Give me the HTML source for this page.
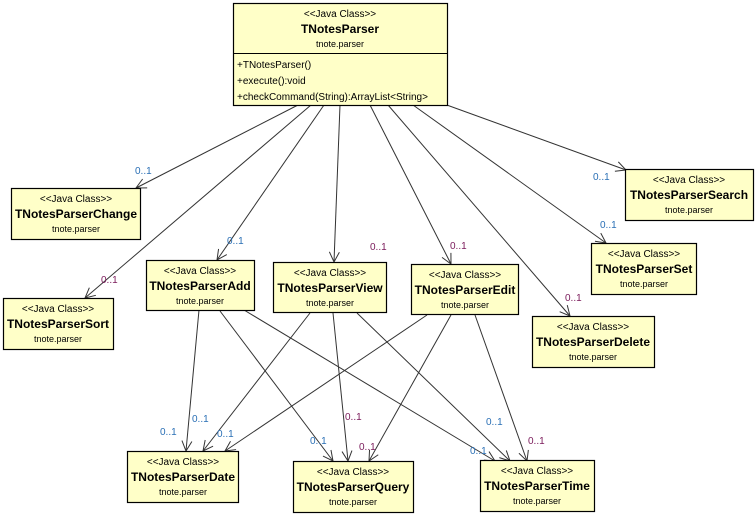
<!DOCTYPE html>
<html><head><style>
body{margin:0;background:#fff;}
svg{display:block;font-family:"Liberation Sans",Arial,sans-serif;}
.b{fill:#ffffc8;stroke:#000;stroke-width:1.2;}
.s{font-size:10px;text-anchor:middle;fill:#000;}
.n{font-size:12px;font-weight:bold;text-anchor:middle;fill:#000;}
.p{font-size:9px;text-anchor:middle;fill:#000;}
.l{stroke:#333;stroke-width:1;fill:none;marker-end:url(#a);}
.m{font-size:10px;fill:#2a6fb5;}
.r{font-size:10px;fill:#7a1a5a;}
</style></head><body>
<svg width="756" height="516" viewBox="0 0 756 516">
<defs><marker id="a" markerWidth="12" markerHeight="12" refX="11" refY="6" orient="auto" markerUnits="userSpaceOnUse"><path d="M1,1 L11,6 L1,11" fill="none" stroke="#333" stroke-width="1"/></marker></defs>

<line class="l" x1="298" y1="105" x2="136" y2="188"/>
<line class="l" x1="311" y1="105" x2="85" y2="298"/>
<line class="l" x1="324" y1="105" x2="217" y2="260"/>
<line class="l" x1="340" y1="105" x2="334" y2="262"/>
<line class="l" x1="370" y1="105" x2="451" y2="264"/>
<line class="l" x1="388" y1="105" x2="570" y2="316"/>
<line class="l" x1="413" y1="105" x2="606" y2="243"/>
<line class="l" x1="433" y1="100" x2="626" y2="170"/>

<line class="l" x1="199" y1="310" x2="186" y2="451"/>
<line class="l" x1="220" y1="311" x2="333" y2="461"/>
<line class="l" x1="244" y1="310" x2="495" y2="461"/>
<line class="l" x1="310" y1="313" x2="203" y2="451"/>
<line class="l" x1="333" y1="313" x2="348" y2="461"/>
<line class="l" x1="357" y1="313" x2="510" y2="461"/>
<line class="l" x1="427" y1="315" x2="225" y2="451"/>
<line class="l" x1="451" y1="315" x2="369" y2="461"/>
<line class="l" x1="475" y1="315" x2="527" y2="461"/>

<text class="m" x="135" y="174">0..1</text>
<text class="r" x="101" y="283">0..1</text>
<text class="m" x="227" y="244">0..1</text>
<text class="r" x="370" y="250">0..1</text>
<text class="r" x="450" y="249">0..1</text>
<text class="r" x="565" y="301">0..1</text>
<text class="m" x="600" y="228">0..1</text>
<text class="m" x="593" y="180">0..1</text>
<text class="m" x="160" y="435">0..1</text>
<text class="m" x="192" y="422">0..1</text>
<text class="m" x="217" y="437">0..1</text>
<text class="m" x="310" y="444">0..1</text>
<text class="r" x="345" y="420">0..1</text>
<text class="r" x="359" y="450">0..1</text>
<text class="m" x="486" y="425">0..1</text>
<text class="r" x="528" y="444">0..1</text>
<text class="m" x="470" y="454">0..1</text>

<rect class="b" x="233.5" y="3.5" width="214" height="102"/>
<line x1="233.5" y1="53.5" x2="447.5" y2="53.5" stroke="#000"/>
<text class="s" x="340" y="17">&lt;&lt;Java Class&gt;&gt;</text>
<text class="n" x="340" y="33">TNotesParser</text>
<text class="p" x="340" y="47">tnote.parser</text>
<text style="font-size:10px" x="237" y="68">+TNotesParser()</text>
<text style="font-size:10px" x="237" y="84">+execute():void</text>
<text style="font-size:10px" x="237" y="100">+checkCommand(String):ArrayList&lt;String&gt;</text>

<g>
<rect class="b" x="11.5" y="188.5" width="129" height="51"/>
<text class="s" x="76" y="202">&lt;&lt;Java Class&gt;&gt;</text><text class="n" x="76" y="218">TNotesParserChange</text><text class="p" x="76" y="232">tnote.parser</text>
<rect class="b" x="3.5" y="298.5" width="110" height="51"/>
<text class="s" x="58" y="312">&lt;&lt;Java Class&gt;&gt;</text><text class="n" x="58" y="328">TNotesParserSort</text><text class="p" x="58" y="342">tnote.parser</text>
<rect class="b" x="146.5" y="260.5" width="108" height="50"/>
<text class="s" x="200" y="274">&lt;&lt;Java Class&gt;&gt;</text><text class="n" x="200" y="290">TNotesParserAdd</text><text class="p" x="200" y="304">tnote.parser</text>
<rect class="b" x="273.5" y="262.5" width="113" height="50"/>
<text class="s" x="330" y="276">&lt;&lt;Java Class&gt;&gt;</text><text class="n" x="330" y="292">TNotesParserView</text><text class="p" x="330" y="306">tnote.parser</text>
<rect class="b" x="411.5" y="264.5" width="107" height="50"/>
<text class="s" x="465" y="278">&lt;&lt;Java Class&gt;&gt;</text><text class="n" x="465" y="294">TNotesParserEdit</text><text class="p" x="465" y="308">tnote.parser</text>
<rect class="b" x="625.5" y="169.5" width="128" height="51"/>
<text class="s" x="689" y="183">&lt;&lt;Java Class&gt;&gt;</text><text class="n" x="689" y="199">TNotesParserSearch</text><text class="p" x="689" y="213">tnote.parser</text>
<rect class="b" x="591.5" y="243.5" width="105" height="51"/>
<text class="s" x="644" y="257">&lt;&lt;Java Class&gt;&gt;</text><text class="n" x="644" y="273">TNotesParserSet</text><text class="p" x="644" y="287">tnote.parser</text>
<rect class="b" x="532.5" y="316.5" width="122" height="51"/>
<text class="s" x="593" y="330">&lt;&lt;Java Class&gt;&gt;</text><text class="n" x="593" y="346">TNotesParserDelete</text><text class="p" x="593" y="360">tnote.parser</text>
<rect class="b" x="127.5" y="451.5" width="111" height="51"/>
<text class="s" x="183" y="465">&lt;&lt;Java Class&gt;&gt;</text><text class="n" x="183" y="481">TNotesParserDate</text><text class="p" x="183" y="495">tnote.parser</text>
<rect class="b" x="293.5" y="461.5" width="120" height="51"/>
<text class="s" x="353" y="475">&lt;&lt;Java Class&gt;&gt;</text><text class="n" x="353" y="491">TNotesParserQuery</text><text class="p" x="353" y="505">tnote.parser</text>
<rect class="b" x="480.5" y="460.5" width="114" height="51"/>
<text class="s" x="537" y="474">&lt;&lt;Java Class&gt;&gt;</text><text class="n" x="537" y="490">TNotesParserTime</text><text class="p" x="537" y="504">tnote.parser</text>
</g>
</svg>
</body></html>
